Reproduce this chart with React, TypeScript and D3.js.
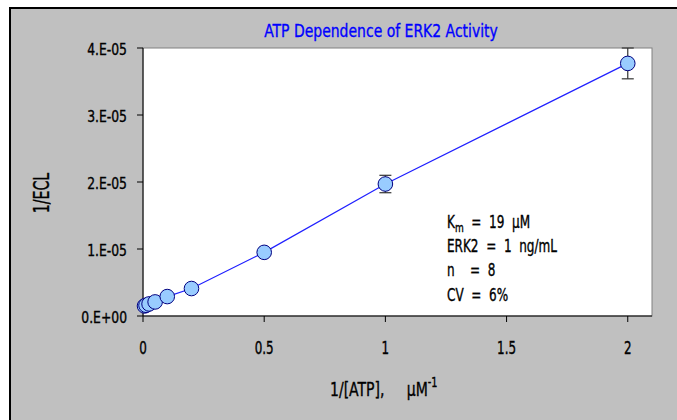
import React from "react";
import * as d3 from "d3";

const xValues = [0.00625, 0.0125, 0.025, 0.05, 0.1, 0.2, 0.5, 1, 2];
const yValues = [1.5e-6, 1.6e-6, 1.8e-6, 2.1e-6, 2.9e-6, 4.1e-6, 9.5e-6, 1.97e-5, 3.77e-5];
const yErrors = [0.2e-6, 0.2e-6, 0.2e-6, 0.2e-6, 0.3e-6, 0.4e-6, 0.5e-6, 1.3e-6, 2.3e-6];
const xTicks = [0, 0.5, 1, 1.5, 2];
const xTickLabels = ["0", "0.5", "1", "1.5", "2"];
const yTicks = [0, 1e-5, 2e-5, 3e-5, 4e-5];
const yTickLabels = ["0.E+00", "1.E-05", "2.E-05", "3.E-05", "4.E-05"];
const annotations = ["K|m| = 19 µM", "ERK2 = 1 ng/mL", "n  = 8", "CV = 6%"];
const title = "ATP Dependence of ERK2 Activity";

const FONT = "'DejaVu Sans Condensed', 'DejaVu Sans', sans-serif";

function T(props: any) {
  const { x, y, s = 0.8, anchor = "start", size, fill = "#000", rotate = 0, children } = props;
  return (
    <text
      transform={`translate(${x},${y}) rotate(${rotate}) scale(${s},1)`}
      textAnchor={anchor}
      fontSize={size}
      fill={fill}
      stroke={fill}
      strokeWidth={0.35}
    >
      {children}
    </text>
  );
}

export default function App() {
  const W = 677, H = 420;
  const x = d3.scaleLinear().domain([0, 2.1]).range([143, 652]);
  const y = d3.scaleLinear().domain([0, 4e-5]).range([316, 48]);
  const pts = xValues.map((v, i) => ({ x: v, y: yValues[i], e: yErrors[i] }));
  const line = d3.line<any>().x(d => x(d.x)).y(d => y(d.y));
  const [x0, x1] = x.range();
  const [yb, yt] = y.range();
  const sp = (s: string) => s.replace(/ /g, "\u00a0\u00a0");

  return (
    <svg width={W} height={H} style={{ position: "absolute", left: 0, top: 0, fontFamily: FONT }}>
      <rect x={0} y={0} width={W} height={H} fill="#ffffff" />
      <rect x={10} y={8} width={W + 10} height={H + 10} fill="#c0c0c0" stroke="#000" strokeWidth={2} />
      <T x={381} y={37} anchor="middle" size={18.5} s={0.84} fill="#0000ff">{title}</T>
      <rect x={x0} y={yt} width={x1 - x0} height={yb - yt} fill="#ffffff" stroke="#808080" strokeWidth={1} />
      <line x1={x0} y1={yt} x2={x0} y2={yb} stroke="#000" strokeWidth={1} />
      <line x1={x0} y1={yb} x2={x1} y2={yb} stroke="#000" strokeWidth={1} />
      {yTicks.map((t, i) => (
        <g key={"y" + i}>
          <line x1={x0 - 6} x2={x0} y1={y(t)} y2={y(t)} stroke="#000" />
          <T x={x0 - 16} y={y(t) + 7} anchor="end" size={16} s={0.86}>{yTickLabels[i]}</T>
        </g>
      ))}
      {xTicks.map((t, i) => (
        <g key={"x" + i}>
          <line x1={x(t)} x2={x(t)} y1={yb} y2={yb + 6} stroke="#000" />
          <T x={x(t)} y={354} anchor="middle" size={17} s={0.78}>{xTickLabels[i]}</T>
        </g>
      ))}
      <path d={line(pts) || ""} fill="none" stroke="#2020ff" strokeWidth={1.2} />
      {pts.map((p, i) => (
        <g key={"e" + i} stroke="#333" strokeWidth={1.2}>
          <line x1={x(p.x)} x2={x(p.x)} y1={y(p.y + p.e)} y2={y(p.y - p.e)} />
          <line x1={x(p.x) - 6} x2={x(p.x) + 6} y1={y(p.y + p.e)} y2={y(p.y + p.e)} />
          <line x1={x(p.x) - 6} x2={x(p.x) + 6} y1={y(p.y - p.e)} y2={y(p.y - p.e)} />
        </g>
      ))}
      {pts.map((p, i) => (
        <circle key={"c" + i} cx={x(p.x)} cy={y(p.y)} r={7.3} fill="#99ccff" stroke="#000080" strokeWidth={1} />
      ))}
      {annotations.map((a, i) => {
        const parts = a.split("|");
        return (
          <T key={"a" + i} x={447} y={228 + i * 24.2} size={17.4} s={0.77}>
            {parts.length === 3 ? (
              <>
                {parts[0]}
                <tspan dy={4} fontSize={13}>{parts[1]}</tspan>
                <tspan dy={-4}>{sp(parts[2])}</tspan>
              </>
            ) : (
              sp(a)
            )}
          </T>
        );
      })}
      <T x={49} y={193} rotate={-90} anchor="middle" size={21} s={0.75}>1/ECL</T>
      <T x={330} y={396} size={20} s={0.78}>
        {"1/[ATP],\u00a0\u00a0\u00a0\u00a0\u00a0µM"}
        <tspan dy={-9} fontSize={14}>-1</tspan>
      </T>
    </svg>
  );
}
